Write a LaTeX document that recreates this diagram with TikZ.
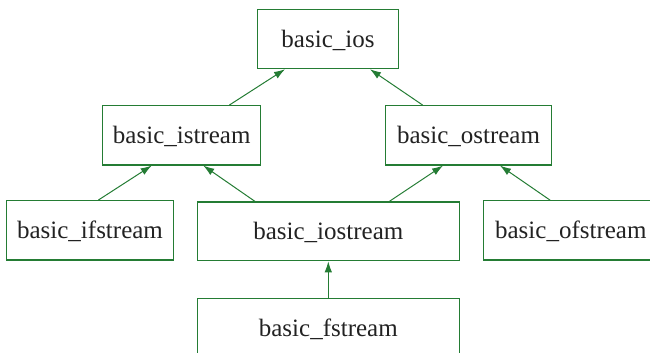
\documentclass[tikz,border=0pt]{standalone}
\usepackage{fontspec}
\setmainfont{Liberation Serif}
\usetikzlibrary{arrows.meta}
\definecolor{edgegreen}{RGB}{36,124,52}
\definecolor{txt}{RGB}{34,34,34}
\tikzset{
  cls/.style={draw=edgegreen, line width=1.2pt, rectangle, inner sep=0pt,
    minimum height=59.3pt, text=txt, font=\fontsize{25}{30}\selectfont,
    text height=17pt, text depth=0pt},
  inh/.style={draw=edgegreen, line width=1pt, -{Latex[length=11pt,width=7.5pt]}, fill=none},
}
\begin{document}
\begin{tikzpicture}[x=1pt,y=-1pt]
\useasboundingbox (0,0) rectangle (650,353);
\clip (0,0) rectangle (650,353);
\node[cls, minimum width=141.4pt] (ios) at (328,39) {basic\_ios};
\node[cls, minimum width=158pt] (is) at (181.7,135.35) {basic\_istream};
\node[cls, minimum width=166.4pt] (os) at (468.5,135.35) {basic\_ostream};
\node[cls, minimum width=166.6pt] (ifs) at (90,230.35) {basic\_ifstream};
\node[cls, minimum width=262pt, minimum height=58.7pt] (iost) at (328.3,231.35) {basic\_iostream};
\node[cls, minimum width=175pt] (ofs) at (570.8,230.35) {basic\_ofstream};
\node[cls, minimum width=262pt, minimum height=59pt] (fs) at (328.3,327.8) {basic\_fstream};
\draw[inh] ([xshift=47.6pt]is.north) -- ([xshift=-43pt]ios.south);
\draw[inh] ([xshift=-45.8pt]os.north) -- ([xshift=42pt]ios.south);
\draw[inh] ([xshift=8.3pt]ifs.north) -- ([xshift=-30pt]is.south);
\draw[inh] ([xshift=-73.3pt]iost.north) -- ([xshift=21.6pt]is.south);
\draw[inh] ([xshift=61pt]iost.north) -- ([xshift=-25.5pt]os.south);
\draw[inh] ([xshift=-20.8pt]ofs.north) -- ([xshift=31.5pt]os.south);
\draw[inh] (fs.north) -- (iost.south);
\end{tikzpicture}
\end{document}
